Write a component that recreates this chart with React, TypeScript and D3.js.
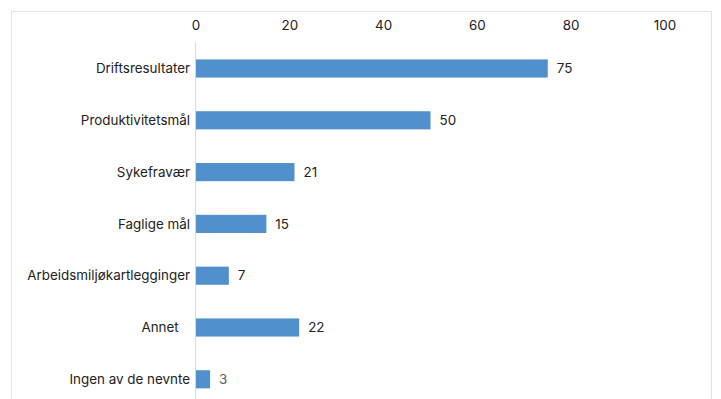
import React from "react";
import * as d3 from "d3";

const categories = [
  "Driftsresultater",
  "Produktivitetsmål",
  "Sykefravær",
  "Faglige mål",
  "Arbeidsmiljøkartlegginger",
  "Annet\u00a0\u00a0\u00a0",
  "Ingen av de nevnte",
];
const values = [75, 50, 21, 15, 7, 22, 3];
const ticks = [0, 20, 40, 60, 80, 100];

const W = 721;
const H = 399;

export default function App() {
  const x = d3.scaleLinear().domain([0, 100]).range([196, 665]);
  const y = d3
    .scaleBand<string>()
    .domain(categories)
    .range([42.6, 42.6 + 7 * 51.8])
    .paddingInner(0.65)
    .paddingOuter(0.325);
  const font = "Inter, 'Noto Sans', sans-serif";
  const fs = 13.4;
  return (
    <svg
      width={W}
      height={H}
      style={{ position: "absolute", left: 0, top: 0, display: "block" }}
      fontFamily={font}
    >
      <rect x={0} y={0} width={W} height={H} fill="#fff" />
      <rect x={11.5} y={11.5} width={700} height={400} fill="none" stroke="#dbe9dd" strokeWidth={1} />
      {ticks.map((t) => (
        <text key={t} x={x(t)} y={30} textAnchor="middle" fontSize={fs} fill="#222">
          {t}
        </text>
      ))}
      <line x1={195.5} x2={195.5} y1={42} y2={H} stroke="#d9d9d9" strokeWidth={1} />
      {categories.map((c, i) => {
        const yy = y(c)!;
        const bh = y.bandwidth();
        return (
          <g key={c}>
            <rect x={x(0)} y={yy} width={x(values[i]) - x(0)} height={bh} fill="#5090cd" />
            <text
              x={190}
              y={yy + bh / 2}
              dy="0.35em"
              textAnchor="end"
              fontSize={fs}
              fill="#222"
              style={{ whiteSpace: "pre" }}
            >
              {c}
            </text>
            <text
              x={x(values[i]) + 9}
              y={yy + bh / 2}
              dy="0.35em"
              fontSize={fs}
              fill={i === 6 ? "#595959" : "#222"}
            >
              {values[i]}
            </text>
          </g>
        );
      })}
    </svg>
  );
}
